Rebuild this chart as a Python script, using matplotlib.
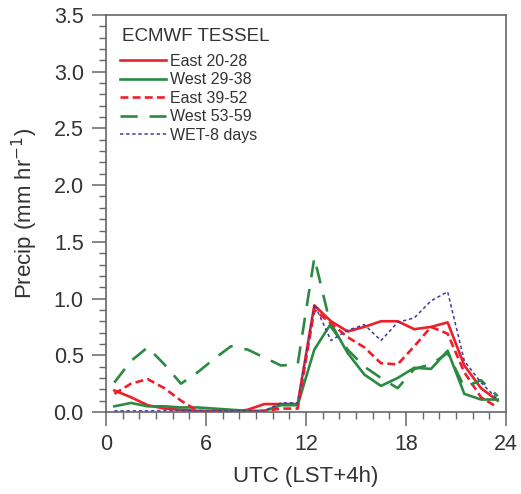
import matplotlib
matplotlib.use("Agg")
import matplotlib.pyplot as plt
from matplotlib.ticker import MultipleLocator

plt.rcParams['font.family'] = ['Liberation Sans', 'DejaVu Sans']

hours = [h + 0.5 for h in range(24)]

east_20_28 = [0.19, 0.13, 0.06, 0.03, 0.02, 0.01, 0.01, 0.00, 0.02, 0.07, 0.07, 0.07,
              0.94, 0.80, 0.71, 0.75, 0.80, 0.80, 0.73, 0.75, 0.79, 0.41, 0.21, 0.10]
west_29_38 = [0.05, 0.08, 0.05, 0.05, 0.04, 0.04, 0.03, 0.02, 0.01, 0.01, 0.06, 0.06,
              0.55, 0.78, 0.52, 0.33, 0.23, 0.30, 0.39, 0.38, 0.54, 0.16, 0.11, 0.11]
east_39_52 = [0.16, 0.25, 0.29, 0.21, 0.10, 0.01, 0.00, 0.00, 0.00, 0.01, 0.03, 0.03,
              0.90, 0.78, 0.66, 0.57, 0.43, 0.42, 0.58, 0.75, 0.69, 0.35, 0.13, 0.04]
west_53_59 = [0.26, 0.45, 0.57, 0.42, 0.25, 0.35, 0.47, 0.58, 0.55, 0.48, 0.41, 0.42,
              1.36, 0.75, 0.55, 0.40, 0.30, 0.21, 0.38, 0.42, 0.52, 0.22, 0.28, 0.14]
wet_8_days = [0.01, 0.01, 0.01, 0.01, 0.01, 0.01, 0.01, 0.01, 0.01, 0.01, 0.08, 0.08,
              0.95, 0.63, 0.72, 0.77, 0.63, 0.79, 0.83, 0.98, 1.06, 0.45, 0.26, 0.11]

labels = ["East 20-28", "West 29-38", "East 39-52", "West 53-59", "WET-8 days"]
legend_title = "ECMWF TESSEL"
xticks = [0, 6, 12, 18, 24]
yticks = [0.0, 0.5, 1.0, 1.5, 2.0, 2.5, 3.0, 3.5]

RED = '#ee1f2a'
GREEN = '#2a8a42'
BLUE = '#3c3c9c'
TXT = '#333333'

fig = plt.figure(figsize=(5.21, 4.94), dpi=100)
ax = fig.add_axes([106/521, 1 - 412/494, 400/521, 397/494])

ax.plot(hours, east_20_28, color=RED, lw=1.9, label=labels[0])
ax.plot(hours, west_29_38, color=GREEN, lw=1.9, label=labels[1])
ax.plot(hours, east_39_52, color=RED, lw=1.9, dashes=(3.0, 1.6), label=labels[2])
ax.plot(hours, west_53_59, color=GREEN, lw=1.9, dashes=(6.5, 4.5), label=labels[3])
ax.plot(hours, wet_8_days, color=BLUE, lw=1.1, dashes=(2.2, 1.8), label=labels[4])

ax.set_xlim(0, 24)
ax.set_ylim(0, 3.5)
ax.set_xticks(xticks)
ax.set_xticklabels([str(t) for t in xticks])
ax.set_yticks(yticks)
ax.set_yticklabels([f"{t:.1f}" for t in yticks])
ax.xaxis.set_minor_locator(MultipleLocator(1))
ax.yaxis.set_minor_locator(MultipleLocator(0.1))

spine_c = '#666666'
for s in ax.spines.values():
    s.set_color(spine_c)
    s.set_linewidth(1.2)

ax.tick_params(which='major', direction='out', length=10, width=1.1, color=spine_c,
               labelsize=15.5, labelcolor=TXT, pad=6)
ax.tick_params(which='minor', direction='out', length=5, width=1.0, color=spine_c)
ax.tick_params(top=False, right=False, which='both')

ax.set_xlabel("UTC (LST+4h)", fontsize=16, color=TXT, labelpad=8)
ax.set_ylabel("Precip (mm hr$^{-1}$)", fontsize=16, color=TXT, labelpad=10)

ax.text(0.04, 0.947, legend_title, transform=ax.transAxes, fontsize=13.5,
        color=TXT, ha='left', va='center')

leg = ax.legend(loc='upper left', bbox_to_anchor=(0.035, 0.902), frameon=False,
                fontsize=11.5, handlelength=2.9, handletextpad=0.25,
                labelspacing=0.22, borderaxespad=0.0, borderpad=0.0)
for t in leg.get_texts():
    t.set_color(TXT)

fig.savefig("out.png", dpi=100)
